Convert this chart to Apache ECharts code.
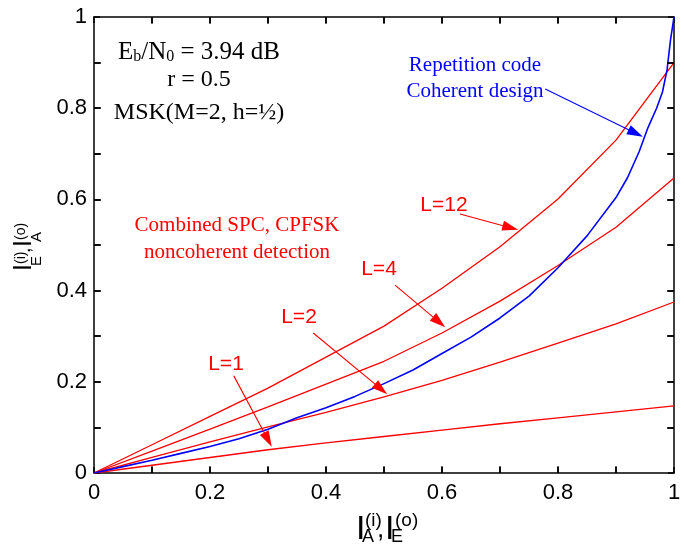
<!DOCTYPE html>
<html><head><meta charset="utf-8">
<script src="https://cdn.jsdelivr.net/npm/echarts@6/dist/echarts.min.js"></script>
<style>html,body{margin:0;padding:0;background:#fff}#c{width:684px;height:545px}</style>
</head><body><div id="c"></div>
<script>
// ---- data ----
const xGrid = [0, 0.1, 0.2, 0.3, 0.4, 0.5, 0.6, 0.7, 0.8, 0.9, 1.0];
const L1  = [0, 0.017, 0.034, 0.051, 0.066, 0.080, 0.094, 0.108, 0.121, 0.134, 0.147];
const L2  = [0, 0.034, 0.068, 0.101, 0.133, 0.167, 0.203, 0.243, 0.285, 0.327, 0.375];
const L4  = [0, 0.048, 0.096, 0.145, 0.195, 0.245, 0.307, 0.377, 0.455, 0.539, 0.647];
const L12 = [0, 0.062, 0.124, 0.186, 0.254, 0.322, 0.405, 0.496, 0.601, 0.730, 0.900];
const repX = [0, 0.05, 0.1, 0.15, 0.2, 0.25, 0.3, 0.35, 0.4, 0.45, 0.5, 0.55, 0.6, 0.65, 0.7, 0.75, 0.8, 0.85, 0.9, 0.92, 0.94, 0.955, 0.97, 0.98, 0.988, 0.994, 1.0];
const repY = [0, 0.014, 0.028, 0.043, 0.058, 0.075, 0.096, 0.121, 0.143, 0.168, 0.196, 0.226, 0.262, 0.298, 0.340, 0.388, 0.450, 0.520, 0.604, 0.648, 0.705, 0.757, 0.800, 0.835, 0.884, 0.950, 1.0];
// annotation arrows: [fromX, fromY, toX, toY]
const arrowsRed = [[0.631,0.568,0.718,0.538],[0.519,0.412,0.595,0.331],[0.378,0.307,0.495,0.184],[0.241,0.213,0.300,0.073]];
const arrowsBlue = [[0.778,0.842,0.934,0.745]];
const tickVals = [0.1, 0.2, 0.3, 0.4, 0.5, 0.6, 0.7, 0.8, 0.9];
const tickLabels = ['0','0.2','0.4','0.6','0.8','1'];

const zip = (xs, ys) => xs.map((x,i)=>[x, ys[i]]);
const fmt = v => { const k = Math.round(v*10); return k%2===0 ? tickLabels[k/2] : ''; };

function axis(pos, showLabel, margin){
  return {
    type:'value', min:0, max:1, interval:0.1, position:pos,
    axisLine:{show:true, onZero:false, lineStyle:{color:'#000', width:1.5}},
    axisTick:{show:true, inside:true, length:6, lineStyle:{color:'#000', width:1.5}},
    splitLine:{show:false},
    axisLabel: showLabel ? {show:true, color:'#000', fontFamily:'Arial, Liberation Sans, sans-serif', fontSize:22, margin:margin, formatter:fmt} : {show:false}
  };
}

const redLine = (name, ys) => ({name, type:'line', data:zip(xGrid, ys), showSymbol:false, symbol:'none',
  lineStyle:{color:'#ff0000', width:1.3}, itemStyle:{color:'#ff0000'}, z:2, silent:true});

const arrowHead = 'path://M5,0 L10,16 L0,16 Z';
const mkArrows = (arr, color) => ({
  silent:true, symbol:['none', arrowHead], symbolSize:[10,16], symbolKeepAspect:true, animation:false,
  label:{show:false}, lineStyle:{color, width:1.1, type:'solid'},
  itemStyle:{color},
  emphasis:{disabled:true},
  data: arr.map(a => [{coord:[a[0],a[1]]},{coord:[a[2],a[3]]}])
});

// inward ticks on all four sides as short segments in data space (about 6-7 px long)
const TX = 0.012, TY = 0.015;
const tickMarks = {
  silent:true, symbol:['none','none'], animation:false, z:10,
  label:{show:false}, lineStyle:{color:'#000', width:1.6, type:'solid'},
  emphasis:{disabled:true},
  data: [].concat(
    tickVals.map(v => [{coord:[v,0]},{coord:[v,TY]}]),
    tickVals.map(v => [{coord:[v,1]},{coord:[v,1-TY]}]),
    tickVals.map(v => [{coord:[0,v]},{coord:[TX,v]}]),
    tickVals.map(v => [{coord:[1,v]},{coord:[1-TX,v]}])
  )
};

const serif = 'Liberation Serif, Times New Roman, serif';
const sans = 'Arial, Liberation Sans, sans-serif';
function txt(x, y, text, color, font, size, align){
  return {type:'text', x, y, style:{text, fill:color, font: size+'px '+font, textAlign:align||'center', textVerticalAlign:'middle'}};
}
function piece(x, y, text, size){
  return {type:'text', x, y, style:{text, fill:'#000', font: size+'px '+sans, textAlign:'left', textVerticalAlign:'middle'}};
}

const chart = echarts.init(document.getElementById('c'), null, {renderer:'canvas'});
chart.setOption({
  animation:false,
  backgroundColor:'#fff',
  grid:{left:94, right:10, top:17, bottom:72, containLabel:false},
  xAxis:[ axis('bottom', true, 9), axis('top', false) ],
  yAxis:[ axis('left', true, 7), axis('right', false) ],
  series:[
    Object.assign(redLine('L=1', L1), {markLine: mkArrows(arrowsRed, '#ff0000')}),
    Object.assign(redLine('L=2', L2), {markLine: tickMarks}),
    redLine('L=4', L4),
    redLine('L=12', L12),
    {name:'Repetition', type:'line', data:zip(repX, repY), showSymbol:false, symbol:'none',
     lineStyle:{color:'#0000ff', width:1.6}, z:3, silent:true,
     markLine: mkArrows(arrowsBlue, '#0000ff')}
  ],
  graphic:[
    {type:'text', x:199, y:52, style:{
      rich:{m:{fontFamily:serif, fontSize:25, fill:'#000'}, s:{fontFamily:serif, fontSize:16, fill:'#000', verticalAlign:'bottom', padding:[9,0,0,0]}},
      text:'{m|E}{s|b}{m|/N}{s|0}{m| = 3.94 dB}', textAlign:'center', textVerticalAlign:'middle'}},
    txt(199, 80, 'r = 0.5', '#000', serif, 24),
    txt(199, 113, 'MSK(M=2, h=½)', '#000', serif, 24),
    txt(475, 65, 'Repetition code', '#0000ff', serif, 21),
    txt(475, 91, 'Coherent design', '#0000ff', serif, 21),
    txt(237, 225, 'Combined SPC, CPFSK', '#ff0000', serif, 21),
    txt(237, 252, 'noncoherent detection', '#ff0000', serif, 21),
    txt(444, 205, 'L=12', '#ff0000', sans, 21),
    txt(379, 269, 'L=4', '#ff0000', sans, 21),
    txt(299, 317, 'L=2', '#ff0000', sans, 21),
    txt(226, 364, 'L=1', '#ff0000', sans, 21),
    {type:'group', x:0, y:0, children:[
      piece(356, 530, 'I', 34), piece(365, 521, '(i)', 19), piece(362, 537, 'A', 18),
      piece(377, 530, ',', 26),
      piece(385, 530, 'I', 34), piece(395, 521, '(o)', 19), piece(391, 537, 'E', 18)
    ]},
    {type:'group', x:0, y:271, rotation:Math.PI/2, children:[
      piece(0, 24, 'I', 25), piece(7, 21, '(i)', 14), piece(5, 37, 'E', 15),
      piece(18, 24, ',', 20),
      piece(24, 24, 'I', 25), piece(31, 21, '(o)', 14), piece(29, 37, 'A', 15)
    ]}
  ]
});
</script></body></html>
